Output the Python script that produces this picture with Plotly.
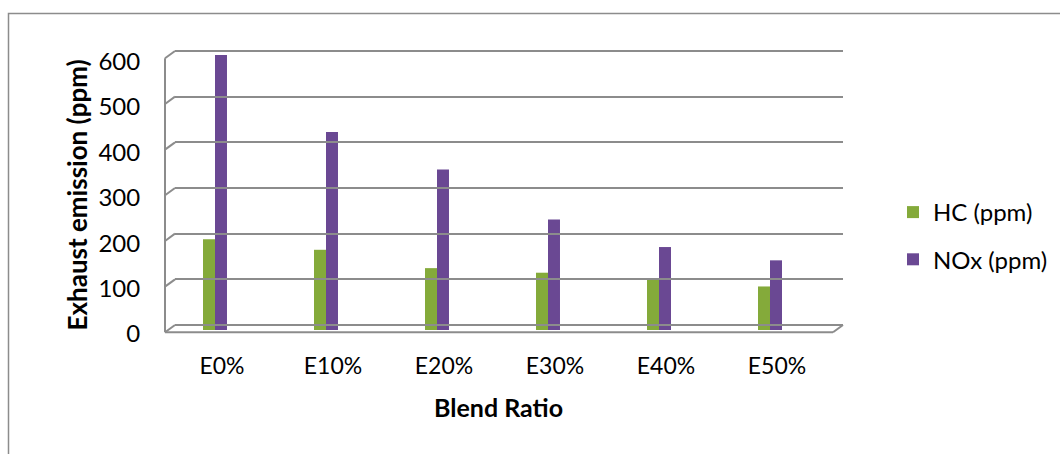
import plotly.graph_objects as go

categories = ["E0%", "E10%", "E20%", "E30%", "E40%", "E50%"]
hc_ppm = [198, 175, 135, 125, 113, 95]
nox_ppm = [600, 432, 350, 241, 181, 152]
y_ticks = [0, 100, 200, 300, 400, 500, 600]

W, H = 1060, 454
def px(x):
    return x / W
def py(y):
    return 1 - y / H

FONT = "Lato"
GRID = "#8c8c8c"
xr = [-0.4955, 5.7207]
idx = list(range(len(categories)))

fig = go.Figure()
fig.add_trace(go.Bar(x=idx, y=hc_ppm, name="HC (ppm)",
                     marker=dict(color="#84aa3a", line=dict(width=0)),
                     legendgroup="a"))
fig.add_trace(go.Bar(x=idx, y=nox_ppm, name="NOx (ppm)",
                     marker=dict(color="#6a4893", line=dict(width=0)),
                     legendgroup="b"))
# carrier traces so the wall and label axes are drawn (nothing visible)
fig.add_trace(go.Scatter(x=idx, y=hc_ppm, mode="none", showlegend=False,
                         hoverinfo="skip", xaxis="x2", yaxis="y2"))
fig.add_trace(go.Scatter(x=idx, y=hc_ppm, mode="none", showlegend=False,
                         hoverinfo="skip", xaxis="x3", yaxis="y3"))

shapes = []
d = -16  # front-edge offset in back-wall value units
# left wall
shapes.append(dict(type="line", xref="paper", yref="y2", x0=px(165), x1=px(165),
                   y0=y_ticks[-1] + d, y1=d, line=dict(color=GRID, width=2)))
for v in y_ticks:
    shapes.append(dict(type="line", xref="paper", yref="y2", x0=px(165), x1=px(175),
                       y0=v + d, y1=v, line=dict(color=GRID, width=2)))
# floor front edge and right side
shapes.append(dict(type="line", xref="paper", yref="y2", x0=px(165), x1=px(833),
                   y0=d, y1=d, line=dict(color=GRID, width=2)))
shapes.append(dict(type="line", xref="paper", yref="y2", x0=px(833), x1=px(843),
                   y0=d, y1=0, line=dict(color=GRID, width=2)))
# outer frame
shapes.append(dict(type="rect", xref="paper", yref="paper", x0=px(8.5), x1=1.1,
                   y0=-0.1, y1=py(13.5), line=dict(color=GRID, width=1.5)))

k = 274 / 600  # px per unit on back wall
fig.update_layout(
    width=W, height=H,
    margin=dict(l=0, r=0, t=0, b=0, autoexpand=False),
    paper_bgcolor="white", plot_bgcolor="rgba(0,0,0,0)",
    barmode="group", bargap=0.784, bargroupgap=0,
    font=dict(family=FONT, size=23, color="#000000"),
    shapes=shapes,
    showlegend=True,
    legend=dict(x=px(893), y=py(190), xanchor="left", yanchor="top",
                font=dict(family=FONT, size=24, color="#000000"),
                tracegroupgap=13, bgcolor="rgba(0,0,0,0)"),
    xaxis=dict(domain=[px(160), px(850)], range=xr, visible=False, anchor="y"),
    yaxis=dict(domain=[py(330), py(55)], range=[0, 600], visible=False, anchor="x"),
    xaxis2=dict(domain=[px(175), px(843)], range=xr, anchor="y2", type="linear",
                showgrid=False, zeroline=False, showticklabels=False, showline=False, ticks=""),
    yaxis2=dict(domain=[py(325 + 20 * k), py(325 - 620 * k)], range=[-20, 620], anchor="x2",
                type="linear",
                tickvals=y_ticks, showgrid=True, gridcolor=GRID, gridwidth=2,
                zeroline=False, showticklabels=False, showline=False, ticks=""),
    xaxis3=dict(domain=[px(167), px(857)], range=xr, anchor="y3", type="linear",
                tickvals=idx, ticktext=categories,
                showgrid=False, zeroline=False, showline=False,
                ticks="outside", ticklen=11, tickcolor="rgba(0,0,0,0)",
                tickfont=dict(family=FONT, size=23, color="#000000")),
    yaxis3=dict(domain=[py(334), py(61.7)], range=[0, 600], anchor="x3", type="linear",
                tickvals=y_ticks, showgrid=False, zeroline=False, showline=False,
                ticks="outside", ticklen=21, tickcolor="rgba(0,0,0,0)",
                tickfont=dict(family=FONT, size=24, color="#000000")),
    annotations=[
        dict(text="<b>Exhaust emission (ppm)</b>", xref="paper", yref="paper",
             x=px(76), y=py(195.5), textangle=-90, showarrow=False,
             xanchor="center", yanchor="middle",
             font=dict(family=FONT, size=26, color="#000000")),
        dict(text="<b>Blend Ratio</b>", xref="paper", yref="paper",
             x=px(498), y=py(407), showarrow=False, xanchor="center", yanchor="middle",
             font=dict(family=FONT, size=25, color="#000000")),
    ],
)

fig.write_html("out.html")
